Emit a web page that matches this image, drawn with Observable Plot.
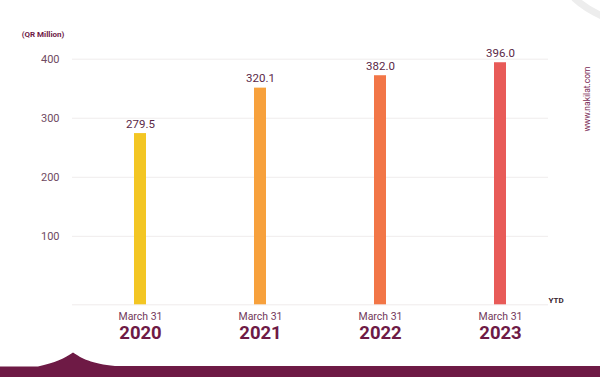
<!DOCTYPE html>
<html>
<head>
<meta charset="utf-8">
<script src="https://cdn.jsdelivr.net/npm/d3@7"></script>
<script src="https://cdn.jsdelivr.net/npm/@observablehq/plot@0.6"></script>
<style>
  html, body { margin: 0; padding: 0; background: #fff; }
  #chart { width: 600px; height: 377px; overflow: hidden; }
  svg { font-family: Roboto, "Noto Sans", sans-serif; }
</style>
</head>
<body>
<div id="chart"></div>
<script>
// Data
const years = ["2020", "2021", "2022", "2023"];
const periodLabels = ["March 31", "March 31", "March 31", "March 31"];
const valueLabels = ["279.5", "320.1", "382.0", "396.0"];
// bar heights as drawn in the reference (QR Million)
const barValues = [274, 351, 372, 394];
const barColors = ["#F3C623", "#F7A13C", "#F27647", "#E85B58"];
const yTicks = [100, 200, 300, 400];
const yBase = -16;

const data = years.map((y, i) => ({
  year: y, value: barValues[i], label: valueLabels[i], period: periodLabels[i], color: barColors[i]
}));

const plot = Plot.plot({
  width: 600,
  height: 377,
  marginLeft: 72,
  marginRight: 52,
  marginTop: 58.7,
  marginBottom: 72.7,
  style: { background: "transparent", overflow: "visible" },
  x: { domain: years, range: [80, 560], paddingInner: 0.9, paddingOuter: 0.45, axis: null },
  y: { domain: [yBase, 400], range: [304.3, 58.7], axis: null },
  marks: [
    Plot.ruleY(yTicks, { stroke: "#efecec", strokeWidth: 1 }),
    Plot.ruleY([yBase], { stroke: "#efecec", strokeWidth: 1 }),
    Plot.text(yTicks, {
      y: d => d, text: d => String(d), frameAnchor: "left", dx: -13, textAnchor: "end",
      fill: "#6f4a62", fontSize: 11
    }),
    Plot.barY(data, { x: "year", y1: yBase, y2: "value", fill: "color" }),
    Plot.text(data, {
      x: "year", y: "value", text: "label", dy: -6, lineAnchor: "bottom",
      fill: "#5a2847", fontSize: 11.5
    }),
    Plot.text(data, {
      x: "year", y: yBase, text: "period", dy: 11.5, fill: "#74395b", fontSize: 10.5
    }),
    Plot.text(data, {
      x: "year", y: yBase, text: "year", dy: 28, fill: "#6e1a45", fontSize: 18.5, fontWeight: "bold"
    })
  ]
});

document.getElementById("chart").appendChild(plot);

const svg = d3.select(plot);
// unit label
svg.append("text").attr("x", 43).attr("y", 34).attr("dy", "0.35em")
  .attr("font-size", 8).attr("font-weight", "bold").attr("fill", "#6e1a45")
  .text("(QR Million)");
// YTD
svg.append("text").attr("x", 556).attr("y", 300.5).attr("dy", "0.35em")
  .attr("font-size", 8).attr("font-weight", "bold").attr("fill", "#3a1f30")
  .text("YTD");
// website vertical
svg.append("text").attr("transform", "translate(587.5,99) rotate(-90)")
  .attr("text-anchor", "middle").attr("dy", "0.35em")
  .attr("font-size", 8.5).attr("fill", "#7a2a55")
  .text("www.nakilat.com");
// top-right arc decoration
svg.append("path").attr("d", "M574,-2 Q586,9 602,16")
  .attr("fill", "none").attr("stroke", "#ededed").attr("stroke-width", 7);
// bottom band with bump
svg.append("path")
  .attr("d", "M0,366.5 L38,366.5 C55,363 65,358 73,352.5 C81,358 92,364 115,366 L600,366 L600,377 L0,377 Z")
  .attr("fill", "#6e1a45");
</script>
</body>
</html>
